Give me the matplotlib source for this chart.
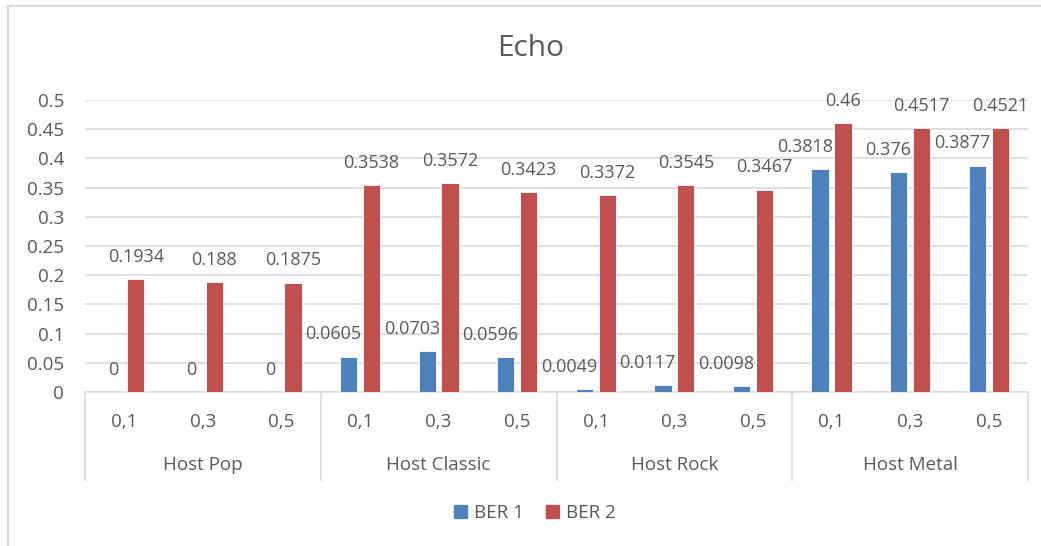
import numpy as np
import matplotlib.pyplot as plt
from matplotlib.lines import Line2D
from matplotlib.patches import Patch

plt.rcParams['font.family'] = ['Open Sans', 'DejaVu Sans']

groups = ["Host Pop", "Host Classic", "Host Rock", "Host Metal"]
levels = ["0,1", "0,3", "0,5"]
ber1 = [0, 0, 0, 0.0605, 0.0703, 0.0596, 0.0049, 0.0117, 0.0098, 0.3818, 0.376, 0.3877]
ber2 = [0.1934, 0.188, 0.1875, 0.3538, 0.3572, 0.3423, 0.3372, 0.3545, 0.3467, 0.46, 0.4517, 0.4521]
yticks = [0, 0.05, 0.1, 0.15, 0.2, 0.25, 0.3, 0.35, 0.4, 0.45, 0.5]

blue = "#4F81BD"
red = "#C0504D"
txt = "#595959"
grid = "#D9D9D9"

W, H = 1041, 546
fig = plt.figure(figsize=(W / 100, H / 100), dpi=100)
ax = fig.add_axes([85 / W, 1 - 392 / H, (1028 - 85) / W, (392 - 100) / H])

n = len(ber1)
x = np.arange(n)
bw = 0.22
off = 0.146
ax.bar(x - off, ber1, bw, color=blue, edgecolor="white", linewidth=0.6, zorder=3)
ax.bar(x + off, ber2, bw, color=red, edgecolor="white", linewidth=0.6, zorder=3)

def fmt(v):
    return "0" if v == 0 else f"{v:g}"

# value labels: blue ones lean left so they clear the red neighbour
for xi, v in zip(x - off, ber1):
    if v == 0:
        ax.annotate(fmt(v), (xi, v), xytext=(0, 16), textcoords="offset points",
                    ha="center", va="center", fontsize=13, color=txt)
    else:
        ax.annotate(fmt(v), (xi + bw / 2, v), xytext=(3, 16), textcoords="offset points",
                    ha="right", va="center", fontsize=13, color=txt)
for xi, v in zip(x + off, ber2):
    ax.annotate(fmt(v), (xi, v), xytext=(0, 16), textcoords="offset points",
                ha="center", va="center", fontsize=13, color=txt)

ax.set_xlim(-0.5, n - 0.5)
ax.set_ylim(0, 0.5)
ax.set_yticks(yticks)
ax.set_yticklabels([f"{t:g}" for t in yticks], fontsize=13.5, color=txt)
ax.tick_params(axis="y", length=0, pad=15)
ax.set_xticks([])
for s in ["top", "right", "left"]:
    ax.spines[s].set_visible(False)
ax.spines["bottom"].set_color(grid)
ax.spines["bottom"].set_linewidth(1.2)
ax.grid(axis="y", color=grid, linewidth=1.2, zorder=0)
ax.set_axisbelow(True)

fig.text(531 / W, 1 - 48 / H, "Echo", ha="center", va="center", fontsize=21.5, color=txt)

# two-level category axis below the plot
trans = ax.get_xaxis_transform()
cat_y = -(422 - 392) / (392 - 100)
grp_y = -(465 - 392) / (392 - 100)
line_bot = -(480 - 392) / (392 - 100)
for i in range(n):
    ax.text(i, cat_y, levels[i % 3], transform=trans, ha="center", va="center",
            fontsize=13.5, color=txt)
for g, name in enumerate(groups):
    ax.text(g * 3 + 1, grp_y, name, transform=trans, ha="center", va="center",
            fontsize=13.5, color=txt)
for g in range(len(groups) + 1):
    ax.add_line(Line2D([g * 3 - 0.5] * 2, [0, line_bot], transform=trans,
                       color=grid, linewidth=1.2, clip_on=False))

handles = [Patch(color=blue, label="BER 1"), Patch(color=red, label="BER 2")]
fig.legend(handles=handles, loc="center", bbox_to_anchor=(535 / W, 1 - 513 / H),
           ncol=2, frameon=False, fontsize=13.5, labelcolor=txt,
           handlelength=0.7, handleheight=0.7, handletextpad=0.35, columnspacing=1.2)

# outer chart border (left and top edges)
fig.add_artist(Line2D([8 / W, 8 / W], [0, 1 - 6 / H], transform=fig.transFigure,
                      color=grid, linewidth=1.5))
fig.add_artist(Line2D([8 / W, 1], [1 - 6 / H, 1 - 6 / H], transform=fig.transFigure,
                      color=grid, linewidth=1.5))

fig.savefig("out.png", dpi=100)
